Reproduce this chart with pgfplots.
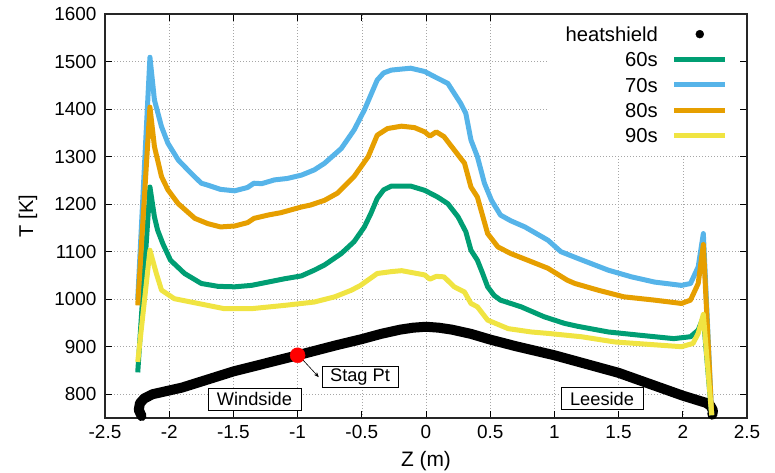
\documentclass[border=0pt]{standalone}
\usepackage{fontspec}
\setmainfont{Liberation Sans}
\usepackage{pgfplots}
\pgfplotsset{compat=1.18}
\usetikzlibrary{arrows.meta}
\definecolor{c60}{HTML}{009E73}
\definecolor{c70}{HTML}{56B4E9}
\definecolor{c80}{HTML}{E69F00}
\definecolor{c90}{HTML}{F0E442}
\newcommand{\tickfont}{\fontsize{19}{22}\selectfont}
\newcommand{\legfont}{\fontsize{20.3}{24}\selectfont}
\newcommand{\notefont}{\fontsize{18.3}{21}\selectfont}

\begin{document}
\begin{tikzpicture}
\path[use as bounding box] (0,0) rectangle (775bp,473bp);
\begin{axis}[
    at={(105bp,55bp)}, anchor=south west,
    scale only axis, width=642bp, height=404bp,
    xmin=-2.5, xmax=2.5, ymin=750, ymax=1600,
    xtick={-2.5,-2,...,2.5}, ytick={800,900,...,1600},
    /pgf/number format/assume math mode=true,
    /pgf/number format/1000 sep={},
    ticklabel style={font=\tickfont},
    xticklabel style={yshift=-3.5bp},
    yticklabel style={xshift=-5bp},
    xlabel={Z (m)}, ylabel={T [K]},
    xlabel style={font=\fontsize{21}{24}\selectfont, at={(axis description cs:0.5,0)}, anchor=base, yshift=-48bp},
    ylabel style={font=\fontsize{20}{24}\selectfont, at={(axis description cs:0,0.5)}, anchor=base, yshift=72bp, xshift=0bp},
    tick align=inside, major tick length=7bp,
    tick style={black, line width=0.8bp},
    axis line style={line width=1.2bp, black!85},
    grid=major,
    grid style={gray!70, line width=0.6bp, dash pattern=on 0.8bp off 2.2bp},
    clip=false,
    legend cell align=right,
    legend plot pos=right,
    legend image code/.code={\draw[#1] (0bp,0bp) -- (51bp,0bp);},
    legend style={at={(1,1)}, anchor=north east, xshift=-7bp, yshift=-1bp,
        draw=none, fill=white, inner xsep=12bp, inner ysep=6.3bp,
        font=\legfont, column sep=9bp,
        nodes={text height=14.8bp, text depth=0bp, inner ysep=5.25bp, inner xsep=5bp}},
]
\addlegendimage{legend image code/.code={\fill[black] (25.5bp,0bp) circle (4bp);}}
\addlegendentry{heatshield}

% heatshield profile
\addplot[black, line width=10bp, line cap=round, line join=round, forget plot] coordinates {
(-2.215,754) (-2.237,767) (-2.228,781) (-2.195,791) (-2.13,800) (-1.9,814) (-1.5,848)
(-1.0,882) (-0.7,903) (-0.5,916) (-0.35,927) (-0.2,936) (-0.1,940) (0,942)
(0.1,940) (0.2,936) (0.35,927) (0.5,915) (0.7,901) (1.0,882) (1.5,845)
(2.0,797) (2.12,787) (2.18,782) (2.215,776) (2.235,766) (2.23,757)
};

\addplot[c60, line width=5bp, line join=round] coordinates {
(-2.245,846) (-2.15,1236) (-2.115,1173) (-2.09,1145) (-2.05,1117) (-1.99,1082)
(-1.88,1054) (-1.75,1033) (-1.62,1027) (-1.49,1026) (-1.36,1029) (-1.23,1036)
(-1.10,1043) (-0.97,1049) (-0.87,1061) (-0.79,1072) (-0.66,1096) (-0.56,1121)
(-0.48,1152) (-0.43,1180) (-0.38,1212) (-0.33,1230) (-0.27,1238) (-0.12,1238)
(-0.01,1229) (0.09,1215) (0.17,1201) (0.25,1173) (0.31,1142) (0.35,1103)
(0.40,1082) (0.44,1055) (0.48,1026) (0.53,1008) (0.58,998) (0.74,984)
(0.92,963) (1.08,949) (1.18,943) (1.42,931) (1.67,924) (1.93,917)
(2.06,921) (2.12,935) (2.16,962) (2.225,756)
};
\addlegendentry{60s}

\addplot[c70, line width=5bp, line join=round] coordinates {
(-2.245,1000) (-2.15,1509) (-2.115,1419) (-2.06,1363) (-2.01,1328) (-1.93,1293)
(-1.83,1265) (-1.75,1244) (-1.70,1240) (-1.60,1231) (-1.49,1228) (-1.39,1235)
(-1.34,1244) (-1.28,1243) (-1.18,1251) (-1.08,1254) (-0.97,1261) (-0.87,1272)
(-0.79,1286) (-0.66,1317) (-0.56,1356) (-0.48,1398) (-0.38,1461) (-0.33,1476)
(-0.27,1482) (-0.12,1486) (-0.01,1479) (0.06,1469) (0.17,1454) (0.27,1412)
(0.31,1391) (0.35,1335) (0.40,1300) (0.455,1244) (0.51,1208) (0.58,1177)
(0.66,1165) (0.77,1152) (0.95,1124) (1.05,1100) (1.18,1086) (1.42,1061)
(1.60,1047) (1.78,1036) (1.99,1029) (2.06,1033) (2.12,1068) (2.16,1138)
(2.225,756)
};
\addlegendentry{70s}

\addplot[c80, line width=5bp, line join=round] coordinates {
(-2.245,987) (-2.15,1404) (-2.115,1321) (-2.06,1258) (-2.01,1230) (-1.93,1201)
(-1.80,1170) (-1.70,1159) (-1.60,1152) (-1.49,1154) (-1.39,1161) (-1.34,1170)
(-1.23,1177) (-1.13,1182) (-0.97,1194) (-0.90,1198) (-0.79,1208) (-0.69,1223)
(-0.56,1258) (-0.45,1300) (-0.38,1345) (-0.30,1359) (-0.19,1364) (-0.09,1361)
(-0.01,1352) (0.03,1343) (0.08,1352) (0.14,1342) (0.22,1314) (0.30,1286)
(0.35,1236) (0.40,1215) (0.48,1138) (0.56,1110) (0.66,1096) (0.82,1079)
(0.95,1065) (1.10,1040) (1.16,1033) (1.34,1019) (1.54,1005) (1.78,998)
(1.99,991) (2.06,998) (2.12,1033) (2.16,1115) (2.225,756)
};
\addlegendentry{80s}

\addplot[c90, line width=5bp, line join=round] coordinates {
(-2.245,868) (-2.15,1103) (-2.10,1054) (-2.06,1019) (-1.96,1001) (-1.83,994)
(-1.70,987) (-1.57,980) (-1.36,980) (-1.10,987) (-0.87,994) (-0.71,1005)
(-0.58,1019) (-0.51,1029) (-0.38,1054) (-0.27,1058) (-0.19,1060) (-0.09,1055)
(-0.01,1051) (0.03,1042) (0.08,1048) (0.14,1047) (0.22,1026) (0.30,1015)
(0.35,991) (0.40,984) (0.48,956) (0.64,938) (0.82,931) (0.95,928)
(1.21,921) (1.47,910) (1.73,905) (1.99,900) (2.08,907) (2.12,928)
(2.16,968) (2.225,756)
};
\addlegendentry{90s}

% stagnation point
\addplot[only marks, mark=*, mark size=7.5bp, red, forget plot] coordinates {(-1.0,882)};

\draw[-{Stealth[length=5bp,width=4bp]}, line width=0.6bp] (axis cs:-0.965,874) -- (axis cs:-0.835,836);
\node[draw, line width=0.8bp, fill=white, font=\notefont, text height=13.3bp, text depth=3.8bp, inner xsep=8bp, inner ysep=2bp]
  at (axis cs:-0.514,836) {Stag Pt};
\node[draw, line width=0.8bp, fill=white, font=\notefont, text height=13.3bp, text depth=0bp, inner xsep=9bp, inner ysep=4.35bp]
  at (axis cs:-1.336,789.5) {Windside};
\node[draw, line width=0.8bp, fill=white, font=\notefont, text height=13.3bp, text depth=0bp, inner xsep=9bp, inner ysep=4.35bp]
  at (axis cs:1.371,790.5) {Leeside};
\end{axis}
\end{tikzpicture}
\end{document}
